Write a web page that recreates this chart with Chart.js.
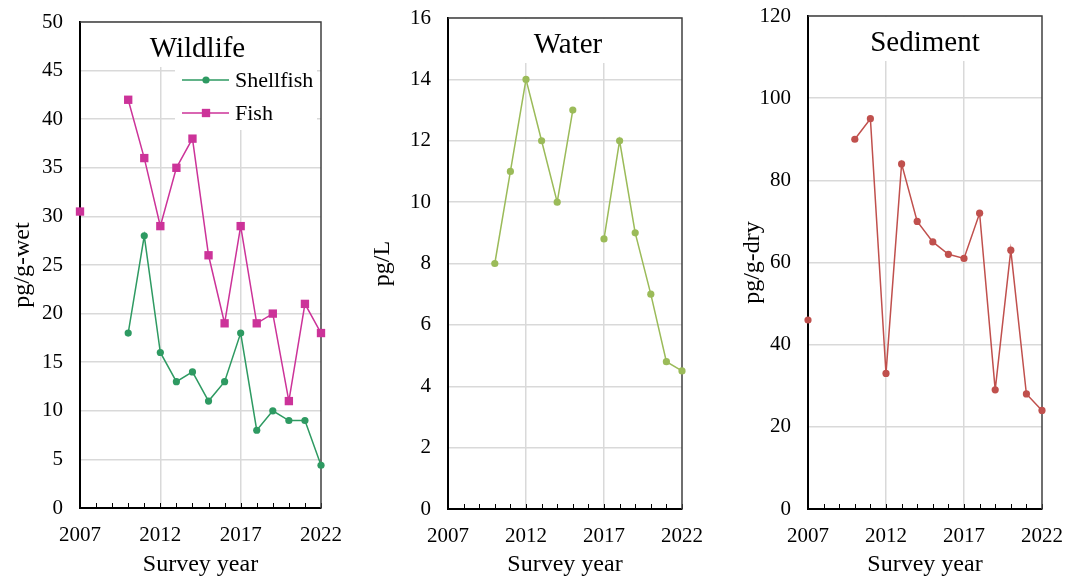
<!DOCTYPE html>
<html>
<head>
<meta charset="utf-8">
<script src="https://cdn.jsdelivr.net/npm/chart.js@4.4.1/dist/chart.umd.min.js"></script>
<style>
  body { margin: 0; background: #fff; width: 1070px; height: 581px; overflow: hidden; position: relative; }
  .panel { position: absolute; top: 0; height: 581px; }
</style>
</head>
<body>
<div class="panel" style="left:0;width:355px"><canvas id="wildlife"></canvas></div>
<div class="panel" style="left:360px;width:350px"><canvas id="water"></canvas></div>
<div class="panel" style="left:730px;width:340px"><canvas id="sediment"></canvas></div>
<script>
// survey years on the x axis
const years = [2007, 2008, 2009, 2010, 2011, 2012, 2013, 2014, 2015, 2016, 2017, 2018, 2019, 2020, 2021, 2022];
const yearLabels = [2007, 2012, 2017, 2022];

// wildlife (pg/g-wet)
const shellfish = [null, null, null, 18, 28, 16, 13, 14, 11, 13, 18, 8, 10, 9, 9, 4.4];
const fish = [30.5, null, null, 42, 36, 29, 35, 38, 26, 19, 29, 19, 20, 11, 21, 18];
// water (pg/L)
const water = [null, null, null, 8, 11, 14, 12, 10, 13, null, 8.8, 12, 9, 7, 4.8, 4.5];
// sediment (pg/g-dry)
const sediment = [46, null, null, 90, 95, 33, 84, 70, 65, 62, 61, 72, 29, 63, 28, 24];

const serif = '"Liberation Serif", "Times New Roman", serif';
Chart.defaults.font.family = serif;
Chart.defaults.color = '#000';

function pts(arr) {
    return years.map((y, i) => ({ x: y, y: arr[i] }));
}

// title (with a white box over the grid), optional legend, inner year ticks and frame
const panelDecor = {
    id: 'panelDecor',
    beforeDatasetsDraw(chart, args, opts) {
        const ctx = chart.ctx;
        const a = chart.chartArea;
        const x = chart.scales.x;
        ctx.save();

        ctx.font = '29px ' + serif;
        const tw = ctx.measureText(opts.title).width;
        const cx = (a.left + a.right) / 2 + (opts.shift || 0);
        ctx.fillStyle = '#fff';
        ctx.fillRect(cx - tw / 2 - 12, a.top + 1, tw + 24, 44);
        if (opts.legend) {
            ctx.fillRect(a.left + 95, a.top + 40, a.right - a.left - 99, 68);
        }
        ctx.fillStyle = '#000';
        ctx.textAlign = 'center';
        ctx.textBaseline = 'middle';
        ctx.fillText(opts.title, cx, a.top + 27);

        if (opts.legend) {
            ctx.font = '22px ' + serif;
            ctx.textAlign = 'left';
            chart.data.datasets.forEach((ds, i) => {
                const ly = a.top + 58 + i * 33;
                const lx = a.left + 102;
                ctx.strokeStyle = ds.borderColor;
                ctx.lineWidth = ds.borderWidth;
                ctx.beginPath();
                ctx.moveTo(lx, ly);
                ctx.lineTo(lx + 47, ly);
                ctx.stroke();
                ctx.fillStyle = ds.pointBackgroundColor;
                ctx.lineWidth = ds.pointBorderWidth;
                Chart.helpers.drawPoint(ctx, { pointStyle: ds.pointStyle, radius: ds.pointRadius, borderWidth: ds.pointBorderWidth, rotation: 0 }, lx + 24, ly);
                ctx.fillStyle = '#000';
                ctx.fillText(ds.label, a.left + 155, ly + 1);
            });
        }

        ctx.strokeStyle = '#000';
        ctx.lineWidth = 1;
        years.forEach(y => {
            const px = Math.round(x.getPixelForValue(y)) + 0.5;
            ctx.beginPath();
            ctx.moveTo(px, a.bottom);
            ctx.lineTo(px, a.bottom - 5);
            ctx.stroke();
        });

        ctx.strokeStyle = '#404040';
        ctx.lineWidth = 1.5;
        ctx.beginPath();
        ctx.moveTo(a.left, a.top);
        ctx.lineTo(a.right, a.top);
        ctx.lineTo(a.right, a.bottom);
        ctx.stroke();
        ctx.restore();
    }
};

function makeChart(id, datasets, yMax, yStep, yTitle, title, opts) {
    return new Chart(document.getElementById(id), {
        type: 'line',
        data: { datasets: datasets },
        options: {
            responsive: true,
            maintainAspectRatio: false,
            animation: false,
            clip: false,
            layout: { padding: { left: 0, right: opts.right, top: opts.top, bottom: 0 } },
            plugins: {
                legend: { display: false },
                tooltip: { enabled: false },
                panelDecor: { title: title, legend: opts.legend, shift: opts.shift }
            },
            scales: {
                x: {
                    type: 'linear',
                    min: 2007,
                    max: 2022,
                    afterFit: s => { s.height = opts.xHeight; s.paddingLeft = 0; s.paddingRight = 0; },
                    ticks: {
                        stepSize: 1,
                        autoSkip: false,
                        maxRotation: 0,
                        padding: 15,
                        font: { size: 21 },
                        callback: v => yearLabels.includes(v) ? String(v) : ''
                    },
                    grid: {
                        drawTicks: false,
                        lineWidth: 1.5,
                        color: c => (c.tick && (c.tick.value === 2012 || c.tick.value === 2017)) ? '#d9d9d9' : 'rgba(0,0,0,0)'
                    },
                    border: { color: '#000', width: 2 },
                    title: { display: true, text: 'Survey year', font: { size: 24 }, padding: { top: 0, bottom: 2 } }
                },
                y: {
                    min: 0,
                    max: yMax,
                    afterFit: s => { s.width = opts.yWidth; s.paddingTop = 0; s.paddingBottom = 0; },
                    ticks: { stepSize: yStep, padding: 17, font: { size: 21 } },
                    grid: {
                        drawTicks: false,
                        lineWidth: 1.5,
                        color: '#d9d9d9'
                    },
                    border: { color: '#000', width: 2 },
                    title: { display: true, text: yTitle, font: { size: 24 }, padding: { top: 8, bottom: 0 } }
                }
            }
        },
        plugins: [panelDecor]
    });
}

makeChart('wildlife', [
    {
        label: 'Shellfish', data: pts(shellfish),
        borderColor: '#2e9a62', backgroundColor: '#2e9a62', pointBackgroundColor: '#2e9a62',
        borderWidth: 1.5, pointRadius: 3.6, pointBorderWidth: 0, pointStyle: 'circle', spanGaps: false
    },
    {
        label: 'Fish', data: pts(fish),
        borderColor: '#cc3399', backgroundColor: '#cc3399', pointBackgroundColor: '#cc3399',
        borderWidth: 1.5, pointRadius: 5.9, pointBorderWidth: 0, pointStyle: 'rect', spanGaps: false
    }
], 50, 5, 'pg/g-wet', 'Wildlife', { right: 34, top: 22, xHeight: 73, yWidth: 80, legend: true, shift: -3 });

makeChart('water', [
    {
        label: 'Water', data: pts(water),
        borderColor: '#9bbb59', backgroundColor: '#9bbb59', pointBackgroundColor: '#9bbb59',
        borderWidth: 1.5, pointRadius: 3.6, pointBorderWidth: 0, pointStyle: 'circle', spanGaps: false
    }
], 16, 2, 'pg/L', 'Water', { right: 28, top: 18, xHeight: 72, yWidth: 88, legend: false, shift: 3 });

makeChart('sediment', [
    {
        label: 'Sediment', data: pts(sediment),
        borderColor: '#c0504d', backgroundColor: '#c0504d', pointBackgroundColor: '#c0504d',
        borderWidth: 1.5, pointRadius: 3.6, pointBorderWidth: 0, pointStyle: 'circle', spanGaps: false
    }
], 120, 20, 'pg/g-dry', 'Sediment', { right: 28, top: 16, xHeight: 72, yWidth: 78, legend: false, shift: 0 });
</script>
</body>
</html>
